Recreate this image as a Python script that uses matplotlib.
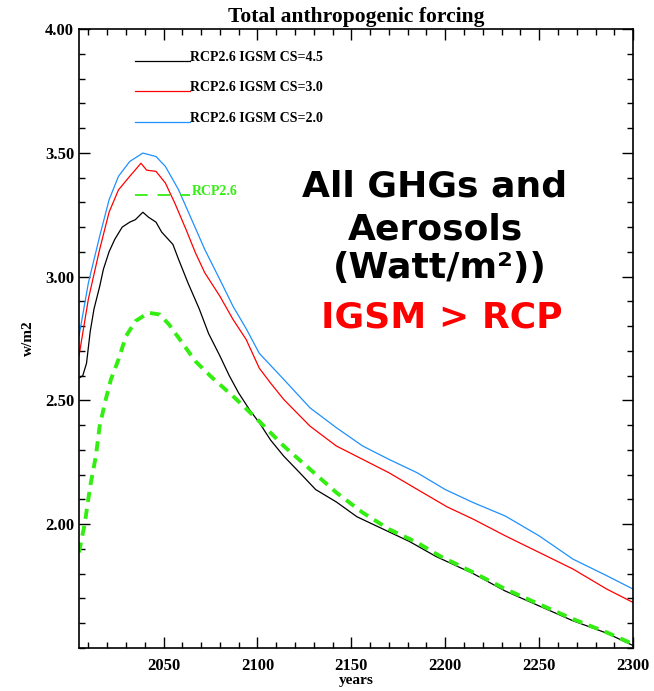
import matplotlib
matplotlib.use("Agg")
import matplotlib.pyplot as plt
from matplotlib.ticker import MultipleLocator, FormatStrFormatter

# IGSM runs, values (w/m2)
years_cs45 = [2005, 2007, 2009, 2011, 2013, 2016, 2018, 2021, 2024, 2028,
              2032, 2035, 2039, 2042, 2046, 2049, 2055, 2058, 2063, 2069,
              2074, 2080, 2085, 2090, 2096, 2101, 2107, 2114, 2121, 2131,
              2142, 2153, 2167, 2181, 2195, 2215, 2232, 2250, 2268, 2286, 2300]
cs45 = [2.59, 2.60, 2.65, 2.78, 2.87, 2.96, 3.03, 3.10, 3.15, 3.20,
        3.22, 3.23, 3.26, 3.24, 3.22, 3.18, 3.13, 3.07, 2.975, 2.87,
        2.77, 2.68, 2.60, 2.53, 2.46, 2.41, 2.34, 2.275, 2.22, 2.14,
        2.09, 2.03, 1.98, 1.93, 1.87, 1.80, 1.73, 1.67, 1.61, 1.56, 1.51]

years_cs30 = [2005, 2010, 2016, 2021, 2026, 2032, 2038, 2041, 2046, 2051,
              2056, 2062, 2067, 2072, 2080, 2087, 2094, 2101, 2107, 2114,
              2128, 2142, 2156, 2170, 2185, 2201, 2215, 2232, 2250, 2268, 2286, 2300]
cs30 = [2.68, 2.91, 3.11, 3.26, 3.35, 3.405, 3.458, 3.43, 3.425, 3.378,
        3.297, 3.19, 3.096, 3.015, 2.921, 2.827, 2.746, 2.63, 2.57, 2.504,
        2.396, 2.316, 2.262, 2.208, 2.141, 2.07, 2.02, 1.953, 1.886, 1.819, 1.738, 1.684]

years_cs20 = [2005, 2010, 2016, 2021, 2026, 2032, 2039, 2046, 2051, 2058,
              2065, 2072, 2080, 2087, 2094, 2101, 2114, 2128, 2142, 2156,
              2170, 2185, 2200, 2215, 2232, 2250, 2268, 2286, 2300]
cs20 = [2.76, 2.975, 3.163, 3.31, 3.405, 3.465, 3.499, 3.485, 3.445, 3.351,
        3.23, 3.109, 2.988, 2.88, 2.79, 2.69, 2.585, 2.47, 2.39, 2.316,
        2.262, 2.208, 2.14, 2.087, 2.033, 1.953, 1.859, 1.792, 1.738]

# RCP2.6 scenario
years_rcp = [2005, 2008, 2011, 2014, 2016, 2019, 2022, 2026, 2030, 2035,
             2042, 2048, 2053, 2060, 2067, 2076, 2087, 2100, 2114, 2128,
             2142, 2156, 2170, 2185, 2197, 2215, 2232, 2250, 2268, 2286, 2300]
rcp26 = [1.886, 2.0, 2.155, 2.276, 2.396, 2.497, 2.585, 2.665, 2.759, 2.82,
         2.854, 2.847, 2.806, 2.732, 2.658, 2.591, 2.517, 2.423, 2.316, 2.222,
         2.128, 2.047, 1.98, 1.926, 1.872, 1.805, 1.738, 1.677, 1.617, 1.563, 1.516]

labels = ["RCP2.6 IGSM CS=4.5", "RCP2.6 IGSM CS=3.0", "RCP2.6 IGSM CS=2.0"]
colors = ["black", "#ff0000", "#1e90ff"]
green = "#33ee11"

serif = "Liberation Serif"
big = "DejaVu Sans"

fig = plt.figure(figsize=(6.54, 6.91), dpi=100)
ax = fig.add_axes([0.1208, 0.0622, 0.8472, 0.8958])

series = [(years_cs45, cs45), (years_cs30, cs30), (years_cs20, cs20)]
for (xs, ys), c in zip(series, colors):
    ax.plot(xs, ys, color=c, lw=0.9)
ax.plot(years_rcp, rcp26, color=green, lw=2.8, dashes=(2.6, 1.8))

ax.set_xlim(2005, 2300)
ax.set_ylim(1.5, 4.0)
ax.set_xticks([2050, 2100, 2150, 2200, 2250, 2300])
ax.xaxis.set_minor_locator(MultipleLocator(10))
ax.set_yticks([2.0, 2.5, 3.0, 3.5, 4.0])
ax.yaxis.set_minor_locator(MultipleLocator(0.1))
ax.yaxis.set_major_formatter(FormatStrFormatter("%.2f"))
ax.tick_params(which="both", direction="in", top=True, right=True, width=1.0)
ax.tick_params(which="major", length=8)
ax.tick_params(which="minor", length=4.3)
ax.tick_params(axis="x", pad=7)
for lab in ax.get_xticklabels() + ax.get_yticklabels():
    lab.set_fontfamily(serif)
    lab.set_fontweight("bold")
    lab.set_fontsize(12)
for s in ax.spines.values():
    s.set_linewidth(1.2)

ax.set_title("Total anthropogenic forcing", fontfamily=serif, fontweight="bold",
             fontsize=15.5, pad=5)
ax.set_xlabel("years", fontfamily=serif, fontweight="bold", fontsize=11, labelpad=0)
ax.set_ylabel("w/m2", fontfamily=serif, fontweight="bold", fontsize=11, labelpad=7)

# IDL-style key: short line ending where the label starts, on its baseline
key_y = [0.9491, 0.9002, 0.8502]
for y, c, lab in zip(key_y, colors, labels):
    ax.plot([0.1011, 0.2004], [y, y], color=c, lw=0.9, transform=ax.transAxes)
    ax.text(0.2004, y, lab, transform=ax.transAxes, ha="left", va="baseline",
            fontfamily=serif, fontweight="bold", fontsize=10)
ax.plot([0.1011, 0.2004], [0.7318, 0.7318], color=green, lw=1.3, dashes=(7, 5.5),
        transform=ax.transAxes)
ax.text(0.2034, 0.7318, "RCP2.6", transform=ax.transAxes, ha="left", va="baseline",
        fontfamily=serif, fontweight="bold", fontsize=10, color=green)

# big annotation
notes = ["All GHGs and", "Aerosols", "(Watt/m²))", "IGSM > RCP"]
note_x = [0.6426, 0.6426, 0.6516, 0.6543]
note_y = [0.7302, 0.6607, 0.5977, 0.5186]
note_c = ["black", "black", "black", "#ff0000"]
for t, x, y, c in zip(notes, note_x, note_y, note_c):
    ax.text(x, y, t, transform=ax.transAxes, ha="center", va="baseline",
            fontfamily=big, fontweight="bold", fontsize=26, color=c)

fig.savefig("out.png", dpi=100)
